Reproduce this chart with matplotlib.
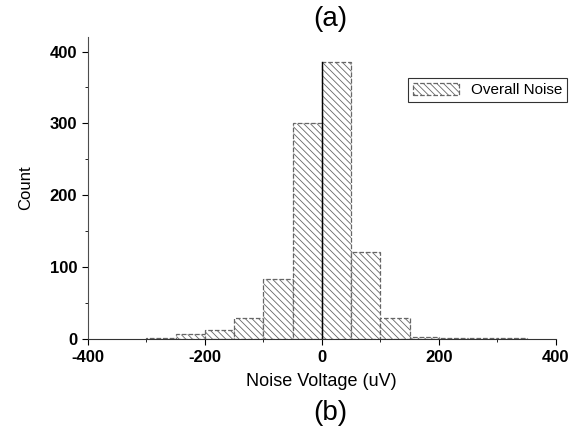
import numpy as np
import matplotlib.pyplot as plt
from matplotlib.ticker import MultipleLocator

plt.rcParams['font.family'] = ['Liberation Sans', 'DejaVu Sans']
plt.rcParams['axes.unicode_minus'] = False
plt.rcParams['hatch.linewidth'] = 0.6
plt.rcParams['hatch.color'] = '0.35'

# histogram bins (left edges, uV) and counts
bin_left = [-300, -250, -200, -150, -100, -50, 0, 50, 100, 150, 200, 250, 300]
counts = [1, 7, 13, 30, 83, 300, 386, 121, 29, 3, 2, 1, 1]
bin_width = 50

fig = plt.figure(figsize=(5.85, 4.32), dpi=100)
ax = fig.add_axes([0.150, 0.215, 0.800, 0.699])

ax.bar(bin_left, counts, width=bin_width, align='edge', color='white',
       edgecolor='0.4', linewidth=0.9, linestyle='--', hatch='\\\\\\\\\\',
       label='Overall Noise')
ax.axvline(0, ymin=0, ymax=386 / 420, color='black', lw=1.0)

ax.set_xlim(-400, 400)
ax.set_ylim(0, 420)
ax.set_xticks([-400, -200, 0, 200, 400])
ax.xaxis.set_minor_locator(MultipleLocator(100))
ax.set_yticks([0, 100, 200, 300, 400])
ax.yaxis.set_minor_locator(MultipleLocator(50))
ax.tick_params(labelsize=12, length=4, width=0.8)
ax.tick_params(which='minor', length=2)
for lab in ax.get_xticklabels() + ax.get_yticklabels():
    lab.set_fontweight('bold')
for s in ['top', 'right']:
    ax.spines[s].set_visible(False)
ax.spines['left'].set_color('0.3')
ax.spines['bottom'].set_color('0.2')

ax.set_xlabel('Noise Voltage (uV)', fontsize=13, labelpad=6)
ax.set_ylabel('Count', fontsize=12, labelpad=12)

leg = ax.legend(loc='upper right', bbox_to_anchor=(1.04, 0.89), fontsize=11,
                frameon=True, fancybox=False, edgecolor='black',
                handlelength=3.0, borderpad=0.3, handleheight=0.9)
leg.get_frame().set_linewidth(0.8)

fig.text(0.565, 0.955, '(a)', fontsize=20, ha='center', va='center')
fig.text(0.565, 0.045, '(b)', fontsize=20, ha='center', va='center')

fig.savefig('out.png', dpi=100)
